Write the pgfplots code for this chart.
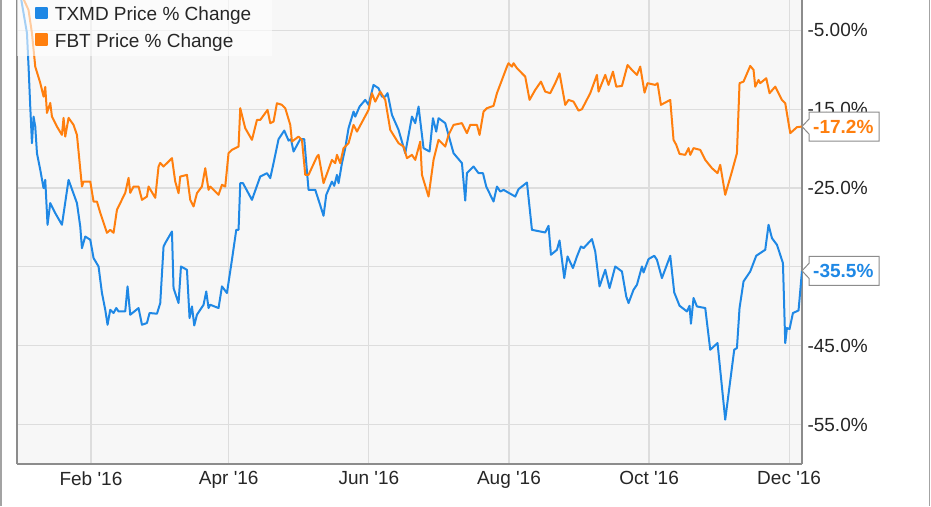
\documentclass[border=0pt]{standalone}
\usepackage{fontspec}
\setmainfont{Liberation Sans}
\usepackage{pgfplots}
\pgfplotsset{compat=1.18}
\definecolor{txmd}{RGB}{31,136,229}
\definecolor{fbt}{RGB}{255,127,14}
\definecolor{gridc}{RGB}{221,221,221}
\definecolor{bgc}{RGB}{247,247,247}
\definecolor{framec}{RGB}{140,140,140}
\begin{document}
\begin{tikzpicture}[x=1pt,y=1pt]
\useasboundingbox (0,0) rectangle (931,506);
\fill[white] (0,0) rectangle (931,506);
\draw[framec!80, line width=1.5pt] (1.2,0) -- (1.2,506);
\draw[framec!80, line width=1.5pt] (929.5,0) -- (929.5,506);
\begin{axis}[
  at={(17pt,42pt)}, anchor=south west,
  scale only axis, width=785pt, height=464pt,
  xmin=-1.2, xmax=340.6, ymin=-60, ymax=-1.15,
  axis background/.style={fill=bgc},
  axis x line*=bottom,
  axis line style={framec, line width=1.3pt},
  grid=major, major grid style={gridc, line width=1.2pt},
  xtick={31,91,152,213,274,335},
  xticklabels={Feb \textquotesingle16, Apr \textquotesingle16, Jun \textquotesingle16, Aug \textquotesingle16, Oct \textquotesingle16, Dec \textquotesingle16},
  ytick={-55,-45,-35,-25,-15,-5},
  yticklabels={-55.0\%,-45.0\%,,-25.0\%,-15.0\%,-5.00\%},
  yticklabel pos=right,
  major tick length=0pt,
  tick label style={font=\fontsize{19}{22}\selectfont, text=black!85},
  xticklabel style={yshift=-4pt},
  yticklabel style={xshift=2pt},
  legend cell align=left,
  legend image code/.code={\fill[#1, fill opacity=1] (0pt,-3.5pt) rectangle (10.7pt,7.2pt);},
  legend style={at={(0,1)}, anchor=north west, draw=none, fill=white, fill opacity=0.6, text opacity=1,
    inner xsep=18pt, inner ysep=4pt, row sep=5pt, column sep=4pt,
    nodes={inner sep=3pt, text=black!85}, font=\fontsize{19}{22}\selectfont},
]
\addplot[color=txmd, line width=2pt, line join=round] coordinates {
(0,0) (3.13,-5.33) (3.83,-9.6) (4.57,-14.67) (5.31,-19.31) (6.01,-15.94) (6.75,-17.21) (7.49,-20.58) (8.93,-22.69) (10.36,-25.01) (11.1,-23.96) (12.1,-29.66) (13.28,-26.91) (15.46,-28.18) (18.37,-29.66) (21.25,-23.96) (24.9,-26.91) (26.34,-29.88) (27.08,-32.62) (28.52,-31.15) (30.7,-31.56) (32.13,-33.88) (34.31,-34.95) (35.79,-38.32) (37.23,-40.44) (38.23,-42.34) (39.4,-40.44) (40.84,-40.85) (42.02,-40.22) (43.02,-40.65) (45.93,-40.65) (46.94,-37.48) (48.11,-41.07) (51.73,-40.22) (53.21,-42.34) (55.38,-42.12) (56.52,-40.85) (59.74,-40.94) (61.17,-39.59) (62.61,-32.41) (63.35,-31.98) (66.27,-30.51) (66.96,-37.69) (69.14,-39.59) (70.19,-34.95) (72.8,-35.37) (73.93,-41.49) (74.98,-40.02) (75.98,-42.43) (77.15,-41.07) (80.03,-39.8) (81.2,-38.12) (82.2,-40.22) (82.94,-39.8) (86.56,-40.22) (88.04,-37.48) (90.21,-38.32) (92.39,-34.1) (94.27,-30.3) (95.27,-30.3) (96.01,-24.38) (97.18,-24.38) (101.1,-26.5) (104.71,-23.54) (106.15,-23.33) (107.63,-23.11) (109.07,-23.74) (110.5,-21.84) (112.68,-18.8) (115.16,-17.71) (117.04,-18.98) (118.08,-18.8) (119.21,-20.37) (122.13,-18.8) (123.87,-18.8) (125.74,-25.23) (128.66,-25.23) (130.53,-26.91) (132.27,-28.52) (133.45,-25.86) (135.93,-24.18) (136.93,-24.72) (138.11,-23.33) (138.81,-24.38) (140.29,-21.84) (141.72,-19.94) (143.16,-17.41) (145.34,-15.3) (146.08,-15.94) (147.95,-14.67) (150.43,-13.82) (151.87,-14.45) (154.04,-11.92) (156.22,-12.34) (157.7,-13.4) (159.14,-13.4) (160.14,-12.97) (162.06,-15.72) (164.93,-17.62) (167.85,-20.58) (170.76,-15.94) (172.2,-16.77) (173.64,-14.67) (175.81,-19.94) (178.43,-20.37) (179.91,-16.14) (181.34,-17.84) (182.35,-16.14) (185.26,-16.77) (188.88,-20.58) (192.53,-21.84) (193.97,-26.58) (194.71,-23.11) (197.58,-22.27) (199.76,-23.11) (201.68,-23.11) (203.11,-24.81) (206.29,-26.71) (207.77,-24.81) (209.21,-25.44) (210.65,-25.23) (215.74,-26.08) (217.18,-25.14) (220.84,-24.3) (223.01,-30.3) (226.63,-30.51) (228.8,-30.64) (230.24,-29.79) (231.28,-33.47) (233.9,-32.83) (235.03,-31.65) (237.08,-36.42) (238.51,-33.68) (240.86,-35.15) (242.61,-33.68) (244.35,-32.41) (245.48,-32.62) (249.14,-31.48) (250.57,-33.05) (252.44,-37.48) (254.93,-35.37) (256.8,-37.69) (259.28,-34.95) (262.2,-35.58) (264.07,-38.75) (265.07,-39.59) (267.25,-37.9) (268.73,-37.27) (270.91,-34.95) (271.6,-35.71) (273.78,-34.01) (276.26,-33.59) (277.44,-34.1) (279.61,-36.42) (283.23,-33.59) (284.97,-38.24) (287.28,-39.93) (290.5,-40.65) (291.63,-39.93) (292.24,-42.21) (293.37,-38.95) (294.85,-40.02) (298.47,-40.22) (300.64,-45.51) (303.82,-44.66) (307.17,-54.38) (311.09,-45.51) (312.27,-45.29) (313.4,-40.22) (315.14,-36.85) (318.06,-35.58) (320.67,-33.59) (324.59,-32.83) (326.03,-29.66) (327.51,-31.35) (329.69,-32.2) (332.3,-34.52) (333.3,-44.66) (334.04,-42.76) (335.17,-42.88) (336.65,-40.85) (339.09,-40.53) (340.6,-35.5)
};
\addlegendentry{TXMD Price \% Change}
\addplot[color=fbt, line width=2pt, line join=round] coordinates {
(0,0) (3.8,-2.4) (5.3,-5.33) (6.75,-9.6) (8.93,-11.67) (10.36,-13.4) (11.1,-12.17) (11.84,-15.47) (13.28,-14.2) (14.02,-15.94) (16.2,-17.21) (18.37,-18.26) (19.07,-16.1) (19.81,-18.47) (21.25,-16.1) (23.42,-16.99) (24.9,-18.26) (27.08,-24.81) (27.78,-24.18) (30.7,-24.18) (32.13,-26.71) (33.61,-26.71) (35.05,-28.14) (37.97,-30.68) (39.4,-30.3) (40.84,-30.68) (42.32,-27.76) (45.93,-25.61) (47.37,-23.71) (48.11,-25.61) (49.55,-24.81) (51.73,-24.81) (53.21,-26.5) (55.38,-26.08) (56.08,-24.81) (59,-26.24) (60.43,-22.27) (61.17,-21.81) (62.61,-22.27) (66.27,-21.21) (67.7,-24.18) (69.14,-25.65) (69.88,-23.54) (72.8,-23.33) (74.24,-26.5) (75.67,-27.34) (77.15,-25.65) (79.33,-24.81) (80.77,-22.48) (82.2,-25.23) (82.94,-24.81) (86.56,-25.86) (88.04,-24.59) (89.47,-24.81) (90.91,-20.58) (92.39,-20.16) (95.27,-19.74) (96.01,-14.87) (98.18,-17.41) (101.1,-18.89) (103.28,-16.36) (104.71,-16.36) (107.89,-15.09) (109.07,-16.77) (110.5,-16.57) (111.98,-14.24) (114.16,-14.45) (115.6,-14.87) (117.78,-16.99) (118.52,-19.11) (121.39,-18.47) (122.87,-18.89) (124.31,-23.33) (125.74,-23.33) (129.4,-21.01) (130.1,-20.79) (132.27,-24.38) (135.93,-21.43) (137.37,-21.84) (138.11,-20.79) (139.55,-21.84) (140.98,-19.94) (143.16,-19.31) (145.34,-16.99) (146.82,-17.84) (151.87,-15.09) (153.35,-12.97) (154.78,-14.04) (156.96,-12.77) (159.14,-13.82) (161.32,-17.62) (164.93,-19.31) (167.11,-19.74) (168.59,-21.21) (170.76,-20.79) (172.2,-21.43) (174.38,-19.11) (175.12,-23.33) (177.99,-26.08) (180.17,-21.43) (182.35,-18.89) (185.26,-19.74) (186.7,-18.26) (188.88,-16.99) (192.53,-16.77) (194.71,-18.04) (196.15,-16.99) (199.07,-16.99) (200.2,-18.26) (201.94,-15.3) (203.42,-14.87) (206.29,-14.58) (207.77,-12.97) (209.95,-11.29) (212.13,-9.6) (212.82,-9.17) (214.3,-9.6) (215,-9.17) (216.48,-9.8) (220.09,-10.87) (221.97,-13.82) (224.45,-12.55) (226.93,-11.5) (228.8,-12.77) (230.98,-12.97) (233.16,-11.7) (235.03,-10.44) (237.51,-14.45) (238.95,-13.82) (241.12,-14.04) (243.3,-15.18) (244.78,-15) (248.4,-12.97) (251.31,-10.65) (252.01,-12.77) (254.93,-10.65) (256.36,-11.92) (258.28,-10.23) (259.72,-12.14) (262.2,-12.05) (264.64,-9.39) (266.55,-10.02) (268.73,-10.65) (270.17,-9.6) (272.04,-12.9) (273.34,-11.7) (276.7,-11.92) (277.7,-11.7) (279.18,-14.45) (283.23,-13.82) (284.66,-18.89) (285.84,-19.52) (287.28,-20.67) (289.76,-20.79) (291.2,-19.94) (291.94,-20.79) (293.37,-19.94) (296.29,-20.16) (298.47,-21.43) (301.38,-22.48) (303.82,-23.11) (305,-22.06) (307.17,-25.86) (310.09,-22.91) (312.27,-20.58) (313.4,-11.7) (315.14,-11.5) (318.06,-9.51) (319.5,-10.02) (320.24,-12.14) (321.67,-11.29) (322.41,-11.7) (325.03,-11.07) (326.46,-12.97) (328.94,-12.14) (331.86,-13.82) (333.3,-14.24) (335.48,-18.04) (338.39,-17.28) (340.6,-17.2)
};
\addlegendentry{FBT Price \% Change}
\coordinate (eF) at (axis cs:340.6,-17.2);
\coordinate (eT) at (axis cs:340.6,-35.5);
\end{axis}
\foreach \p/\c/\t in {eF/fbt/-17.2\%, eT/txmd/-35.5\%}{
  \draw[framec, fill=white, line width=1pt, line join=miter] (\p) -- ++(7,7.5) -- ++(0,7) -- ++(70,0) -- ++(0,-29) -- ++(-70,0) -- ++(0,7) -- cycle;
  \node[anchor=west, text=\c, font=\bfseries\fontsize{19}{22}\selectfont, inner sep=0pt] at ([xshift=11pt]\p) {\t};
}
\end{tikzpicture}
\end{document}
